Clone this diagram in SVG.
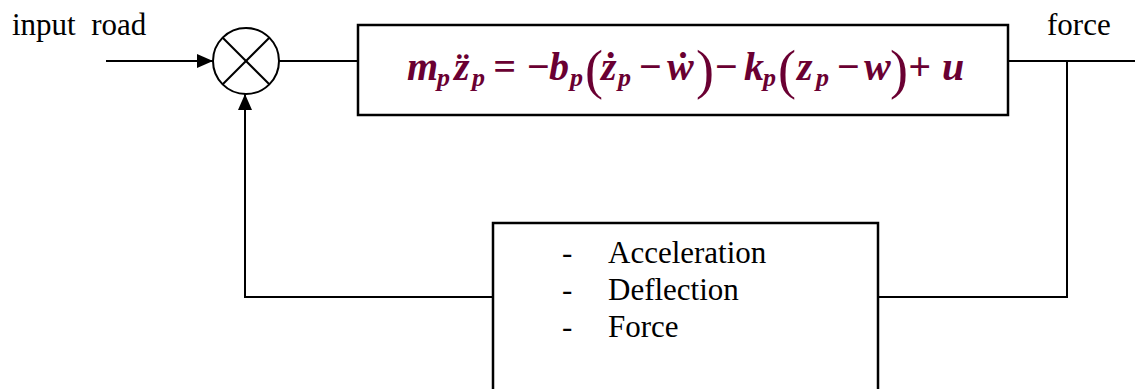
<svg xmlns="http://www.w3.org/2000/svg" width="1135" height="389" viewBox="0 0 1135 389">
<style>
.lbl{font-family:'Liberation Serif','DejaVu Serif',serif;font-size:31px;fill:#000}
.eq{font-family:'Liberation Serif','DejaVu Serif',serif;font-weight:bold;font-style:italic;fill:#6a0032}
.m{font-size:40px}
.s{font-size:26px}
.par{font-family:'Liberation Serif','DejaVu Serif',serif;font-size:54px;fill:#6a0032}
.ln{fill:none;stroke:#000;stroke-width:2}
.box{fill:#fff;stroke:#000;stroke-width:2.5}
</style>
<defs>
<marker id="ah" viewBox="0 0 16 14" refX="16" refY="7" markerWidth="16" markerHeight="14" markerUnits="userSpaceOnUse" orient="auto">
<path d="M0,0 L16,7 L0,14 Z" fill="#000"/>
</marker>
</defs>
<rect width="1135" height="389" fill="#fff"/>
<g id="labels">
<text class="lbl" x="12" y="35" xml:space="preserve">input  road</text>
<text class="lbl" x="1047" y="35">force</text>
</g>
<g id="connectors">
<line class="ln" x1="106" y1="61" x2="213" y2="61" marker-end="url(#ah)"/>
<line class="ln" x1="279" y1="61" x2="358" y2="61"/>
<line class="ln" x1="1008" y1="61" x2="1135" y2="61"/>
<polyline class="ln" points="1067,61 1067,297 878,297"/>
<polyline class="ln" points="493,297 245,297 245,94" marker-end="url(#ah)"/>
</g>
<g id="sum">
<circle cx="246" cy="61" r="33" fill="#fff" stroke="#000" stroke-width="2"/>
<line class="ln" x1="222.7" y1="37.7" x2="269.3" y2="84.3"/>
<line class="ln" x1="269.3" y1="37.7" x2="222.7" y2="84.3"/>
</g>
<g id="plant">
<rect class="box" x="358" y="25" width="650" height="90"/>
<text class="eq m" y="80"><tspan x="407">m</tspan><tspan x="454">z&#x308;</tspan><tspan x="493">=</tspan><tspan x="526">&#x2212;</tspan><tspan x="549">b</tspan><tspan x="601">&#x17C;</tspan><tspan x="638">&#x2212;</tspan><tspan x="667">&#x1E87;</tspan><tspan x="714">&#x2212;</tspan><tspan x="744">k</tspan><tspan x="797">z</tspan><tspan x="836">&#x2212;</tspan><tspan x="864">w</tspan><tspan x="908">+</tspan><tspan x="942">u</tspan></text>
<text class="eq s" y="86"><tspan x="437">p</tspan><tspan x="472">p</tspan><tspan x="570">p</tspan><tspan x="618">p</tspan><tspan x="763">p</tspan><tspan x="816">p</tspan></text>
<text class="par" y="88"><tspan x="585">(</tspan><tspan x="696">)</tspan><tspan x="778">(</tspan><tspan x="890">)</tspan></text>
</g>
<g id="measures">
<rect class="box" x="493" y="223" width="385" height="190"/>
<text class="lbl"><tspan x="562" y="263">-</tspan><tspan x="608" y="263">Acceleration</tspan><tspan x="562" y="300">-</tspan><tspan x="608" y="300">Deflection</tspan><tspan x="562" y="337">-</tspan><tspan x="608" y="337">Force</tspan></text>
</g>
</svg>
